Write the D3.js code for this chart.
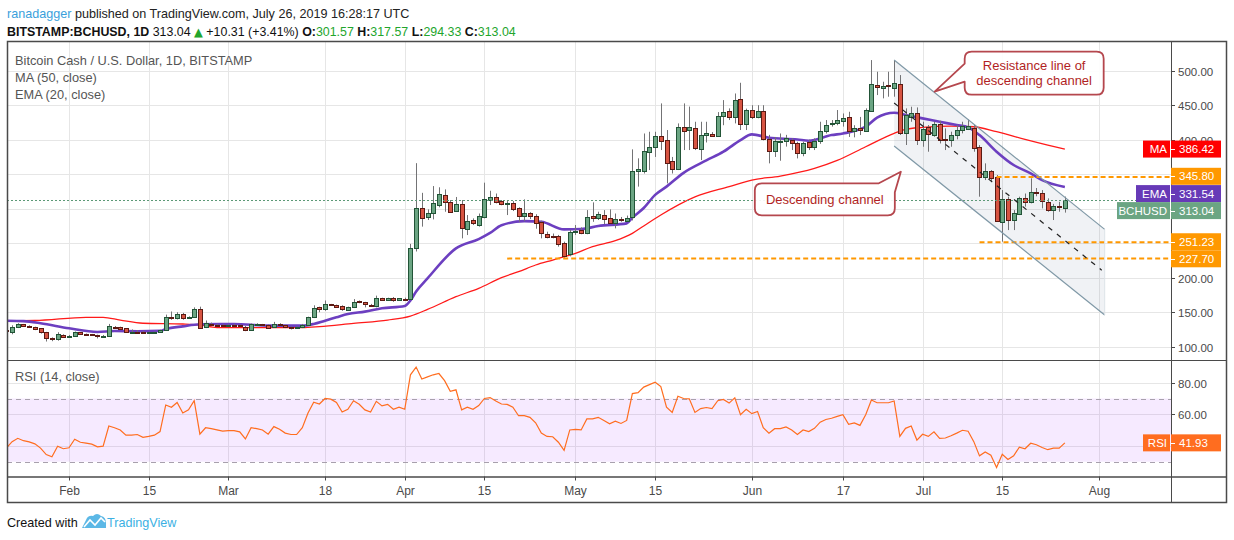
<!DOCTYPE html>
<html><head><meta charset="utf-8">
<script src="https://cdn.jsdelivr.net/npm/d3@7"></script>
<style>
html,body{margin:0;padding:0;background:#fff;}
svg{display:block;font-family:"Liberation Sans",Arial,sans-serif;}
</style></head><body>
<svg id="c" width="1234" height="540"></svg>
<script>
// ---------------- DATA ----------------
const firstDay = "2019-01-21";
const lastDay = "2019-07-26";
// daily candles [open, high, low, close]
const candles = [
[124,126,121,123],[122,131,118,128],[128,134,127,132.5],[132.5,133,129,130],[130,131,128,128.5],[128,129,124,125],[126.5,127,119,121],[121,121.5,107.5,112.6],[112.6,113.5,108,110.7],[110.7,121,108.7,118],[117,118,113,114],
[114,117,113,116],[115.5,122,115,120.8],[120.8,121,117,118],[118.5,119,117,117.5],[118,118.5,116,116.5],[117,117.5,112,115],[114,117,113,116],[115.5,133,114,130],[129,130,127,127.6],[128,129,125.5,126],[126.6,127,120,120.8],[121,125,119,121.5],[121.5,124,120,121],[121.8,122.5,119.5,120.3],[120.5,122,119.5,121],[121,122,120.5,121.5],[121,124.5,120.5,123.8],[123.8,146.5,123,142.6],[142.6,151,139,141.6],[141,150,139.5,146.9],[146.9,149,139,141],[141.6,144,141,143],[142.6,157,142,154],[154,158,126,127],[128,138,127,134],[133.5,135,131,132],[132,133,129,131.5],[131.6,132.5,130,131.2],
[130,132.5,129.5,131.8],[132,133,131,131.5],[131.5,132,130,130.5],[129,130,122.5,124.2],[124.2,133.5,123.8,132.5],[132,134,131,132.5],[132.5,133,130.5,131.5],[131,132,126,127.6],[128.6,136,128,133.4],[133.4,134,130,131],[131,131.5,127,128.1],[129,129.5,125,127],[128,129.5,127,128.6],[128.1,133,127,132],[132,143.5,131,142.6],[142.6,160,141.5,155.6],[157,158,150,154],[154,167,152,161.4],[161.4,162,159,160],[160,161,157,158],[159.5,160,152,154],[152.7,158,152,157],[157,169,156,165.3],[166,167,163,164.3],[164.3,165,157,161.4],[161,162,158,160.5],[158.5,174,157,170],[170,171,167,168.2],[168.2,171,167,170],[171,172,165,167],[167.7,170.5,167,170],
[169.5,171,167,169],[169,249,168,242.5],[242.5,366,238,300.5],[300.5,323,274,286],[288.4,299,283.6,294.4],[293.2,332.8,284.5,307.7],[304.8,331,302,321.2],[319.3,328,295.6,310.1],[309.2,312.5,294,295.6],[297,317,295.6,306.8],[306.8,312.5,257,272.5],[271,290.8,261.8,282.1],[283.6,286,276.3,278.7],[276.3,293,274,289.4],[288.4,337.7,286,313.5],[312.5,326,305.3,316.4],[317.4,322,307.7,310.1],[311,312.5,305,306.8],[306.3,311,290.8,308.7],[308.7,311,296.6,299.5],[300.5,302,281,289.8],[289.8,313.5,282,294.2],[293.7,295,285,289.4],[289.4,292,271,279.7],[281.2,282.6,257,264.2],[263.3,266.7,257,259.4],[260.4,264,257,259.4],[260.4,262,245,249.3],[249.8,252.2,229,231.4],[234.3,269,231,266.2],
[265.7,276.3,262,267.6],[269,273,263,265.2],[264.2,298,263,287.4],[288.9,309.2,281,287],[287,295.6,283.6,291.8],[290.3,298,277.8,285.5],[286,299,278.7,280],[280,293,271.5,285.5],[285,288,281,283.5],[282.6,290,281,286.5],[287.4,386,283,354.6],[354,373,332,357.5],[355,409,351,383.5],[382,411.5,356,388.8],[389.8,411.5,375,405.3],[405.3,452.6,385,398.5],[399.5,414,336.7,366.6],[369,375,351,357.5],[357,423.6,356,417.8],[417.8,452.6,385,413],[414.4,448,385,418.3],[416.4,426,385,388.4],[386.9,426,370.5,406.2],[406.2,426,396,409.6],[408,411,404,406],[405.3,440,404,434.2],[434.7,457.4,421,440.5],[441.5,445.4,428.5,433.3],[433.3,467,423.6,457.4],[458.9,482.5,414,422.2],[422.2,445,414,443],
[443,450,430,432.3],[432.3,450,431,441.5],[441.5,450,399,400.4],[400.4,407,365.7,383],[383,404,375,398],[396.5,409,369.5,398.5],[397.5,407,390,402.4],[399.5,402,385,394.6],[395.6,397,372.9,381.1],[380.1,397,376,395.6],[396.6,400,385,388.8],[388.8,402,385,398],[397.5,426,394,412],[412,428.5,409,421.2],[422.2,428.5,419,424.6],[423.6,443,421,428.5],[427.5,438,419,430.9],[432.3,440.5,404,412.5],[412.5,421,403.4,416.4],[416.4,433,406.7,413.5],[412.5,445.4,411.6,443],[441.5,515.4,440.5,480.6],[480,498.5,464.7,476.8],[474.8,484,459.9,477.7],[479.7,498.5,462.3,477.7],[475.3,515.4,462.3,481.6],[480.2,493.7,406.8,410.1],[410.1,445.4,392.3,435.7],[433.3,447.8,426,439.1],[439.1,446.8,392.3,399.5],
[399.5,426,389.8,415.4],[417.8,421.2,382.6,408.2],[406.7,426,404.3,422.7],[422.7,427.5,394.6,399.5],[400.9,416.4,385,399.5],[399.5,411.6,389.8,406.7],[406.2,421.2,400.5,414],[414,426,409.2,419.3],[416,429.4,414,419.8],[417.4,421.2,382.6,388.4],[388.9,392.2,317.4,345.4],[345.4,365.7,341.5,355],[355,356,339.1,344.9],[345.4,348.8,281.2,282.1],[281.2,327,252.2,313.5],[314.5,317.4,269,283.6],[283.6,298,269,293.2],[292.2,317.4,290.8,315],[316,322,303,310],[309,344,307.7,324.6],[324.6,330,318,323],[322.2,327,300.5,311.6],[309.6,315,295.6,298.1],[297.6,307,283.6,303.9],[303.9,310,295.6,302.4],[301.57,317.57,294.33,313.04]
];
// RSI(14) daily, same days as candles
const rsi = [
38.6,42.7,44.8,43.3,42.5,41.3,38.6,34.5,33.1,39.8,38.2,
38.8,44.2,42.3,41.7,41.1,39.4,39.8,52.6,51.5,50.1,46.8,46.8,47.2,45.4,46,46.8,49.1,65.9,64.5,67.5,60.8,62.8,68.6,47.4,51.5,50.9,50.1,49.3,
49.7,49.7,48.9,44.4,51.5,50.9,50.1,47.4,52.2,50.5,48.1,47.2,47.2,51.5,60.8,67.7,66.5,70,69.6,67.5,61.4,63.2,68.6,66.3,62.8,61.4,68.2,65.3,66.3,63.2,64.5,
63.2,85,89.9,82.3,83.7,85,85.8,81.3,74.5,75.5,62.8,64.5,63.2,65.5,70,70.6,68.4,66.5,66.3,64.5,59.1,59.1,58.1,54.6,48.1,46,45.8,42.3,37.2,50.1,
50.5,50.1,57.1,57.1,58.1,56.1,54,55.6,54.2,56.1,73.1,73.7,77.2,78.8,80.3,77.6,64.5,61.2,71.4,70,69.8,61.2,63.6,64.3,63.6,68.6,69.4,67.1,70.4,59.7,63.2,
60.4,61.8,51.5,48.1,50.9,50.9,52,50.1,47.2,50.1,49.1,51.1,55,56.7,57.5,58.7,59.7,53.6,54.6,53,59.7,69,67.3,67.3,67.3,68.4,46,51.1,52.6,43.7,
47.4,46,48.9,44.8,45,46.4,48.1,49.9,49.3,42.7,33.7,36.2,34.1,26.3,34.7,31.4,33.7,39.2,38.2,41.7,40.7,39,37.6,38.6,38.6,41.93
];
// EMA(20) [date, value]
const ema20 = [
["2019-01-21",137.7],["2019-01-24",137],["2019-01-27",134],["2019-02-01",126.7],["2019-02-06",121.3],["2019-02-09",122.7],["2019-02-13",122.5],["2019-02-17",123],["2019-02-18",125.5],["2019-02-21",129.5],["2019-02-24",132.5],["2019-03-02",132.9],["2019-03-08",130.5],["2019-03-14",130.5],["2019-03-16",133],["2019-03-18",137.7],["2019-03-20",142.6],["2019-03-22",147.4],["2019-03-25",150.8],["2019-03-28",155.6],["2019-04-01",159],["2019-04-02",167],["2019-04-03",180],["2019-04-05",199],["2019-04-10",242.5],["2019-04-14",256],["2019-04-16",265],["2019-04-18",276],["2019-04-22",282],["2019-04-25",281],["2019-04-29",270],["2019-05-02",270.5],["2019-05-05",274.9],["2019-05-10",278.7],["2019-05-11",287],["2019-05-13",301],["2019-05-15",320],["2019-05-17",332],["2019-05-20",352],["2019-05-24",370],["2019-05-27",382.6],["2019-05-30",399.5],["2019-06-01",407.7],["2019-06-04",402.9],["2019-06-09",400.4],["2019-06-11",398.5],["2019-06-15",406.7],["2019-06-17",409],["2019-06-21",418.8],["2019-06-23",432],["2019-06-26",439.1],["2019-06-28",435.7],["2019-07-01",430.9],["2019-07-04",426],["2019-07-07",421.2],["2019-07-09",417.8],["2019-07-11",406.7],["2019-07-14",382.6],["2019-07-17",363.3],["2019-07-20",351.2],["2019-07-22",341.5],["2019-07-26",331.54]
];
// MA(50) [date, value]
const ma50 = [
["2019-01-21",137.7],["2019-01-26",138],["2019-02-04",142.6],["2019-02-07",142.6],["2019-02-10",138.6],["2019-02-14",134],["2019-02-21",132.9],["2019-02-24",131.5],["2019-02-27",127.6],["2019-03-08",127.6],["2019-03-14",127.6],["2019-03-17",129],["2019-03-23",133.9],["2019-03-29",138.6],["2019-04-02",144.4],["2019-04-05",154],["2019-04-10",172.5],["2019-04-14",184.6],["2019-04-18",200],["2019-04-21",208.7],["2019-04-24",218.4],["2019-04-27",225.6],["2019-05-01",235.3],["2019-05-04",245],["2019-05-08",253.6],["2019-05-11",264.3],["2019-05-13",275],["2019-05-16",290.8],["2019-05-22",317],["2019-05-28",332],["2019-06-01",341.5],["2019-06-06",347.3],["2019-06-12",358.4],["2019-06-16",370],["2019-06-21",389.8],["2019-06-26",409.2],["2019-06-28",415],["2019-07-01",417.8],["2019-07-06",419.8],["2019-07-10",418.8],["2019-07-14",411.6],["2019-07-19",400.5],["2019-07-23",392.2],["2019-07-26",386.42]
];
const timeTicks = ["2019-02-01","2019-02-15","2019-03-01","2019-03-18","2019-04-01","2019-04-15","2019-05-01","2019-05-15","2019-06-01","2019-06-17","2019-07-01","2019-07-15","2019-08-01"];
const timeTickLabels = ["Feb","15","Mar","18","Apr","15","May","15","Jun","17","Jul","15","Aug"];
const priceTicks = [100,150,200,250,300,350,400,450,500];
const rsiTicks = [40,60,80];
const rsiBand = [30,70];
// horizontal support / resistance levels
const levelValues = [345.80, 251.23, 227.70];
const levelStarts = ["2019-07-14","2019-07-11","2019-04-19"];
// descending channel [date, price]
const channelUpper = [["2019-06-26",515.5],["2019-08-02",270]];
const channelLower = [["2019-06-26",391],["2019-08-02",146]];
const lastClose = 313.04;
const maLast = 386.42, emaLast = 331.54, rsiLast = 41.93;

// ---------------- DRAW ----------------
const svg = d3.select("#c");
const L = 7, R = 1227, PA = 1171, T = 41, SEP = 360, TA = 476.5, B = 503;
const x = d3.scaleUtc().domain([new Date("2019-02-01"), new Date("2019-08-01")]).range([69, 1099]);
const yP = d3.scaleLinear().domain([100, 500]).range([346.7, 70.7]);
const yR = d3.scaleLinear().domain([60, 80]).range([414.3, 382.7]);
const P = s => new Date(s);
const days = d3.utcDay.range(P(firstDay), d3.utcDay.offset(P(lastDay), 1));
const rows = days.map((d, i) => ({date: d, o: candles[i][0], h: candles[i][1], l: candles[i][2], c: candles[i][3], r: rsi[i]}));

const defs = svg.append("defs");
defs.append("clipPath").attr("id", "cp").append("rect").attr("x", L).attr("y", T).attr("width", PA - L).attr("height", SEP - T);
defs.append("clipPath").attr("id", "cr").append("rect").attr("x", L).attr("y", SEP).attr("width", PA - L).attr("height", TA - SEP);

// grid
const grid = svg.append("g").attr("stroke", "#e6e6e6").attr("stroke-width", 1);
timeTicks.forEach(t => {
  const xx = Math.round(x(P(t))) + 0.5;
  grid.append("line").attr("x1", xx).attr("x2", xx).attr("y1", T).attr("y2", TA);
});
priceTicks.forEach(v => {
  const yy = Math.round(yP(v)) + 0.5;
  grid.append("line").attr("x1", L).attr("x2", PA).attr("y1", yy).attr("y2", yy);
});
rsiTicks.forEach(v => {
  const yy = Math.round(yR(v)) + 0.5;
  grid.append("line").attr("x1", L).attr("x2", PA).attr("y1", yy).attr("y2", yy);
});

// price pane
const gp = svg.append("g").attr("clip-path", "url(#cp)");
const cu = channelUpper.map(p => [x(P(p[0])), yP(p[1])]);
const cl = channelLower.map(p => [x(P(p[0])), yP(p[1])]);
gp.append("path").attr("d", "M" + cu[0] + "L" + cu[1] + "L" + cl[1] + "L" + cl[0] + "Z")
  .attr("fill", "rgba(120,140,160,0.11)").attr("stroke", "none");

const lineGen = d3.line().x(d => x(P(d[0]))).y(d => yP(d[1])).curve(d3.curveMonotoneX);
gp.append("path").attr("d", lineGen(ma50)).attr("fill", "none").attr("stroke", "#ff1a1a").attr("stroke-width", 1.3);
gp.append("path").attr("d", lineGen(ema20)).attr("fill", "none").attr("stroke", "#6c3fc0").attr("stroke-width", 2.6).attr("stroke-linejoin", "round");

// candles
const cg = gp.append("g");
rows.forEach(d => {
  const cx = Math.round(x(d.date));
  const up = d.c >= d.o;
  cg.append("line").attr("x1", cx + 0.5).attr("x2", cx + 0.5)
    .attr("y1", yP(d.h)).attr("y2", yP(d.l)).attr("stroke", "#737375").attr("stroke-width", 1);
  let top = Math.round(yP(Math.max(d.o, d.c))) + 0.5;
  let bot = Math.round(yP(Math.min(d.o, d.c))) + 0.5;
  if (bot - top < 1) bot = top + 1;
  cg.append("rect").attr("x", cx - 1.5).attr("y", top).attr("width", 4).attr("height", bot - top)
    .attr("fill", up ? "#6ba583" : "#d75442").attr("stroke", up ? "#225437" : "#5b1a13").attr("stroke-width", 1);
});

// current price dotted line
const yc = Math.round(yP(lastClose)) + 0.5;
gp.append("line").attr("x1", L).attr("x2", PA).attr("y1", yc).attr("y2", yc)
  .attr("stroke", "#5d9977").attr("stroke-width", 1).attr("stroke-dasharray", "2 2");

// levels
levelValues.forEach((v, i) => {
  gp.append("line").attr("x1", x(P(levelStarts[i]))).attr("x2", PA).attr("y1", yP(v)).attr("y2", yP(v))
    .attr("stroke", "#ff9800").attr("stroke-width", 2).attr("stroke-dasharray", "5 3");
});

// channel lines
const chStroke = "#7f98a6";
gp.append("line").attr("x1", cu[0][0]).attr("y1", cu[0][1]).attr("x2", cu[1][0]).attr("y2", cu[1][1]).attr("stroke", chStroke).attr("stroke-width", 1.2);
gp.append("line").attr("x1", cl[0][0]).attr("y1", cl[0][1]).attr("x2", cl[1][0]).attr("y2", cl[1][1]).attr("stroke", chStroke).attr("stroke-width", 1.2);
gp.append("line").attr("x1", cu[1][0]).attr("y1", cu[1][1]).attr("x2", cl[1][0]).attr("y2", cl[1][1]).attr("stroke", "#dde3e8").attr("stroke-width", 1);
gp.append("line").attr("x1", (cu[0][0] + cl[0][0]) / 2).attr("y1", (cu[0][1] + cl[0][1]) / 2)
  .attr("x2", (cu[1][0] + cl[1][0]) / 2 - 3).attr("y2", (cu[1][1] + cl[1][1]) / 2 - 2)
  .attr("stroke", "#222").attr("stroke-width", 1.2).attr("stroke-dasharray", "5 6");

// callouts
function callout(g, x0, y0, w, h, r, tailPath, lines, fs) {
  g.append("path").attr("d", tailPath(x0, y0, x0 + w, y0 + h, r))
    .attr("fill", "rgba(255,255,255,0.92)").attr("stroke", "#b5474e").attr("stroke-width", 1.8).attr("stroke-linejoin", "round");
  lines.forEach((t, i) => {
    g.append("text").attr("x", x0 + w / 2).attr("y", y0 + h / 2 + (i - (lines.length - 1) / 2) * 15 + 4.5)
      .attr("text-anchor", "middle").attr("font-size", fs).attr("fill", "#b11f24").text(t);
  });
}
const tip1 = [x(P("2019-07-03")) + 0.7, yP(469.6)];
callout(gp, tip1[0] + 30, tip1[1] - 40, 139, 43, 7, (x0, y0, x1, y1, r) =>
  `M${x0 + r},${y0}H${x1 - r}Q${x1},${y0} ${x1},${y0 + r}V${y1 - r}Q${x1},${y1} ${x1 - r},${y1}H${x0 + r}Q${x0},${y1} ${x0},${y1 - r}V${y0 + 30}L${tip1[0]},${tip1[1]}L${x0},${y0 + 12}V${y0 + r}Q${x0},${y0} ${x0 + r},${y0}Z`,
  ["Resistance line of", "descending channel"], 13);
const tip2 = [x(P("2019-06-27")) + 1, yP(353.6)];
callout(gp, tip2[0] - 146, tip2[1] + 11.6, 140, 32, 7, (x0, y0, x1, y1, r) =>
  `M${x0 + r},${y0}H${x1 - 16}L${tip2[0]},${tip2[1]}L${x1},${y0 + 9}V${y1 - r}Q${x1},${y1} ${x1 - r},${y1}H${x0 + r}Q${x0},${y1} ${x0},${y1 - r}V${y0 + r}Q${x0},${y0} ${x0 + r},${y0}Z`,
  ["Descending channel"], 13);

// RSI pane
const gr = svg.append("g").attr("clip-path", "url(#cr)");
gr.append("rect").attr("x", L).attr("width", PA - L).attr("y", yR(rsiBand[1])).attr("height", yR(rsiBand[0]) - yR(rsiBand[1]))
  .attr("fill", "rgba(153,21,255,0.09)");
rsiBand.forEach(v => {
  gr.append("line").attr("x1", L).attr("x2", PA).attr("y1", Math.round(yR(v)) + 0.5).attr("y2", Math.round(yR(v)) + 0.5)
    .attr("stroke", "#a8a0ad").attr("stroke-dasharray", "5 4");
});
gr.append("path").datum(rows).attr("d", d3.line().x(d => x(d.date)).y(d => yR(d.r)))
  .attr("fill", "none").attr("stroke", "#ff6d1f").attr("stroke-width", 1.2);

// frame
const fr = svg.append("g").attr("stroke", "#4a4a4a").attr("fill", "none");
fr.append("rect").attr("x", L + 0.5).attr("y", T + 0.5).attr("width", R - L - 1).attr("height", B - T - 1).attr("stroke-width", 1.5);
fr.append("line").attr("x1", PA + 0.5).attr("x2", PA + 0.5).attr("y1", T).attr("y2", B);
fr.append("line").attr("x1", L).attr("x2", R).attr("y1", SEP + 0.5).attr("y2", SEP + 0.5);
fr.append("line").attr("x1", L).attr("x2", R).attr("y1", TA + 0.5).attr("y2", TA + 0.5).attr("stroke-width", 1.5);

// axis value label positions (stacked as on the reference)
const priceLabels = [
  {cy: yP(maLast), value: maLast, color: "#ff0000", name: "MA", w: 27},
  {cy: yP(levelValues[0]) - 0.8, value: levelValues[0], color: "#ff9800"},
  {cy: yP(levelValues[0]) + 16.5, value: emaLast, color: "#673ab7", name: "EMA", w: 34},
  {cy: yP(levelValues[0]) + 33.5, value: lastClose, color: "#6ba583", name: "BCHUSD", w: 53},
  {cy: yP(levelValues[1]) - 0.6, value: levelValues[1], color: "#ff9800"},
  {cy: yP(levelValues[2]) + 0.2, value: levelValues[2], color: "#ff9800"},
  {cy: yR(rsiLast), value: rsiLast, color: "#ff6d1f", name: "RSI", w: 27}
];
const covered = yy => priceLabels.some(l => Math.abs(l.cy - yy) < 8.5);

// price axis ticks/labels
const ax = svg.append("g").attr("font-size", 11.5).attr("fill", "#4a4a4a");
priceTicks.forEach(v => {
  const yy = Math.round(yP(v)) + 0.5;
  ax.append("line").attr("x1", PA).attr("x2", PA + 4).attr("y1", yy).attr("y2", yy).attr("stroke", "#4a4a4a");
  if (!covered(yy)) ax.append("text").attr("x", 1178).attr("y", yy + 4).text(v.toFixed(2));
});
rsiTicks.forEach(v => {
  const yy = Math.round(yR(v)) + 0.5;
  ax.append("line").attr("x1", PA).attr("x2", PA + 4).attr("y1", yy).attr("y2", yy).attr("stroke", "#4a4a4a");
  if (!covered(yy)) ax.append("text").attr("x", 1178).attr("y", yy + 4).text(v.toFixed(2));
});
timeTicks.forEach((t, i) => {
  const xx = Math.round(x(P(t))) + 0.5;
  ax.append("line").attr("x1", xx).attr("x2", xx).attr("y1", TA).attr("y2", TA + 4).attr("stroke", "#4a4a4a");
  ax.append("text").attr("x", xx).attr("y", 495).attr("text-anchor", "middle").attr("font-size", 12).text(timeTickLabels[i]);
});

priceLabels.forEach(l => {
  const g = svg.append("g");
  const y0 = l.cy - 8.5;
  g.append("rect").attr("x", PA).attr("y", y0).attr("width", 50).attr("height", 17).attr("fill", l.color);
  g.append("line").attr("x1", PA).attr("x2", PA + 4).attr("y1", Math.round(l.cy) + 0.5).attr("y2", Math.round(l.cy) + 0.5).attr("stroke", "#fff");
  g.append("text").attr("x", 1179).attr("y", l.cy + 4.2).attr("fill", "#fff").attr("font-size", 11.5).text(l.value.toFixed(2));
  if (l.name) {
    g.append("rect").attr("x", PA - 1 - l.w).attr("y", y0).attr("width", l.w).attr("height", 17).attr("fill", l.color);
    g.append("text").attr("x", PA - 4).attr("y", l.cy + 4.2).attr("text-anchor", "end").attr("fill", "#fff").attr("font-size", 11.5).text(l.name);
  }
});

// legends
const lg = svg.append("g").attr("font-size", 12.8).attr("fill", "#555");
lg.append("text").attr("x", 15).attr("y", 65).text("Bitcoin Cash / U.S. Dollar, 1D, BITSTAMP");
lg.append("text").attr("x", 15).attr("y", 82).text("MA (50, close)");
lg.append("text").attr("x", 15).attr("y", 99).text("EMA (20, close)");
lg.append("text").attr("x", 15).attr("y", 381).text("RSI (14, close)");

// header
const h1 = svg.append("text").attr("x", 7).attr("y", 18).attr("font-size", 12.6).attr("fill", "#222");
h1.append("tspan").attr("fill", "#3a9fdc").text("ranadagger");
h1.append("tspan").text(" published on TradingView.com, July 26, 2019 16:28:17 UTC");
const h2 = svg.append("text").attr("x", 7).attr("y", 36).attr("font-size", 12.4).attr("fill", "#111");
const G = "#22a52c";
h2.append("tspan").attr("font-weight", "bold").text("BITSTAMP:BCHUSD, 1D");
h2.append("tspan").text("  313.04 ");
h2.append("tspan").attr("fill", G).attr("font-family", "DejaVu Sans").attr("font-size", 11.5).text("▲");
h2.append("tspan").text(" +10.31 (+3.41%) ");
[["O:", "301.57"], ["H:", "317.57"], ["L:", "294.33"], ["C:", "313.04"]].forEach((p, i) => {
  h2.append("tspan").attr("font-weight", "bold").text((i ? " " : "") + p[0]);
  h2.append("tspan").attr("fill", G).text(p[1]);
});

// footer
const ft = svg.append("g");
ft.append("text").attr("x", 7).attr("y", 527).attr("font-size", 12.6).attr("fill", "#111").text("Created with");
ft.append("path").attr("d", "M82,528 L86,520 Q88,515 93,516 Q97,512 101,516 Q106,517 106,523 L106,528 Z").attr("fill", "#5cb8e6");
ft.append("path").attr("d", "M84,527 L90,520 L95,525 L101,518 L105,522").attr("fill", "none").attr("stroke", "#fff").attr("stroke-width", 1.6);
ft.append("text").attr("x", 107).attr("y", 527).attr("font-size", 12.6).attr("fill", "#3bb0e3").text("TradingView");
</script>
</body></html>
